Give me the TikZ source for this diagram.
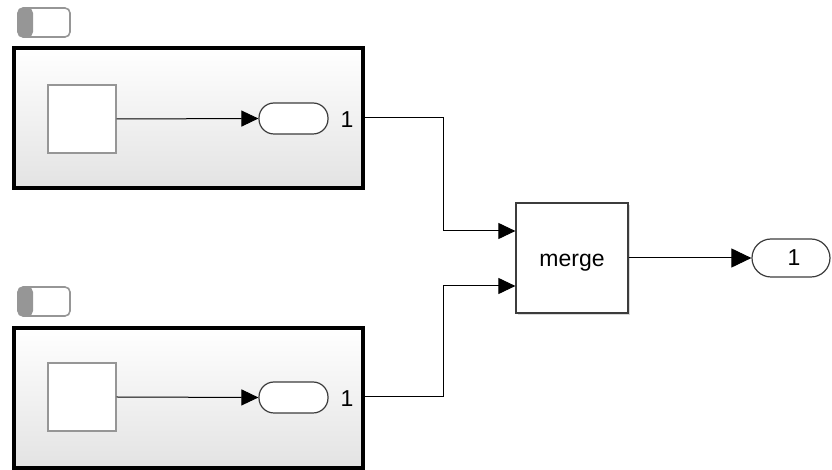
\documentclass[tikz,border=0pt]{standalone}
\usepackage{fontspec}
\setmainfont{Liberation Sans}
\usetikzlibrary{arrows.meta,positioning,shadows}
\definecolor{borde}{RGB}{60,60,60}
\definecolor{gris}{RGB}{150,150,150}

\begin{document}
\begin{tikzpicture}[x=0.5pt,y=-0.5pt,
    sub/.style={draw=black,line width=2pt,top color=white,bottom color=gray!22,
      minimum width=174.5pt,minimum height=70pt,inner sep=0pt,
      drop shadow={shadow xshift=1pt,shadow yshift=-1pt,opacity=0.35}},
    inbox/.style={draw=gris,line width=0.7pt,fill=white,minimum width=34pt,
      minimum height=34pt,inner sep=0pt},
    port/.style={draw=borde,line width=0.6pt,fill=white,rounded corners=7.5pt,
      minimum width=34.5pt,minimum height=15.5pt,inner sep=0pt},
    toggle/.style={draw=gris,line width=0.8pt,rounded corners=2.5pt,
      minimum width=26pt,minimum height=14.5pt,inner sep=0pt,
      path picture={\fill[gris] (path picture bounding box.south west)
        rectangle ([xshift=7.5pt]path picture bounding box.north west);}},
    sig/.style={line width=0.5pt,-{Triangle[length=8.5pt,width=8pt]}},
    font=\fontsize{11.5}{13}\selectfont]
  \useasboundingbox (0,0) rectangle (832,470);

  % first subsystem
  \node[toggle] (tg1) at (44,22.5) {};
  \node[sub] (sys1) at (188.5,118) {};
  \node[inbox] (sq1) at (82,119) {};
  \node[port] (op1) at (293.5,118.5) {};
  \node[right=2.5pt of op1,yshift=-0.5pt] (n1) {1};
  \draw[sig] (sq1.east) -- (op1.west);

  % second subsystem
  \node[toggle] (tg2) at (44,301.5) {};
  \node[sub] (sys2) at (188.5,398.5) {};
  \node[inbox] (sq2) at (82,397) {};
  \node[port] (op2) at (293.5,397.5) {};
  \node[right=2.5pt of op2,yshift=-0.5pt] (n2) {1};
  \draw[sig] (sq2.east) -- (op2.west);

  % merge and output
  \node[draw=borde,line width=0.6pt,fill=white,minimum width=56pt,
    minimum height=55pt,inner sep=0pt,
    drop shadow={shadow xshift=1pt,shadow yshift=-1pt,opacity=0.3}]
    (merge) at (572,258) {\raisebox{-4.5pt}[0pt][0pt]{merge}};
  \node[port,minimum width=39pt,minimum height=19pt,rounded corners=9.5pt]
    (out) at (791,258) {\hspace{3pt}1};
  \coordinate (in1) at ([yshift=13.5pt]merge.west);
  \coordinate (in2) at ([yshift=-14pt]merge.west);

  \draw[sig] (sys1.east) -- ++(78,0) |- (in1);
  \draw[sig] (sys2.east) ++(0,-1.5) -- ++(78,0) |- (in2);
  \draw[sig,-{Triangle[length=10pt,width=9.5pt]}] (merge.east) -- (out.west);
\end{tikzpicture}
\end{document}
